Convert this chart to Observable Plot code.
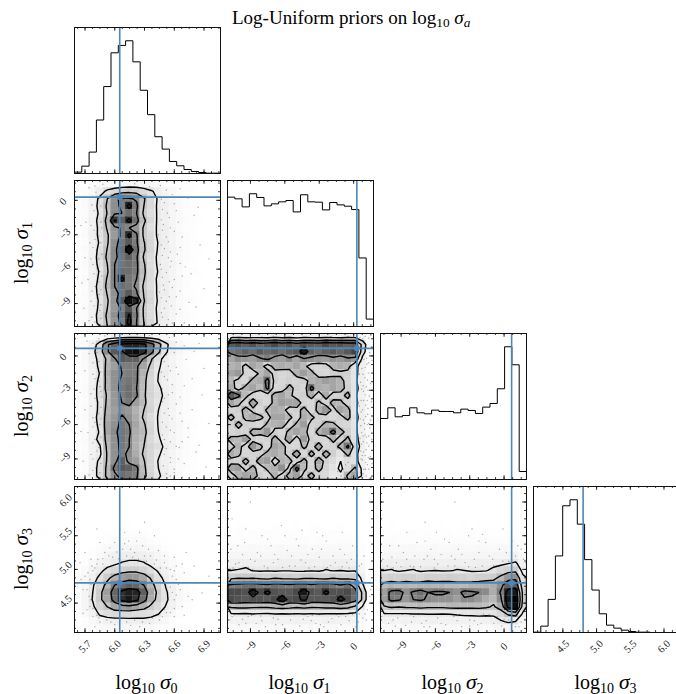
<!DOCTYPE html>
<html><head><meta charset="utf-8">
<script src="https://cdn.jsdelivr.net/npm/d3@7"></script>
<script src="https://cdn.jsdelivr.net/npm/@observablehq/plot@0.6"></script>
<style>
html,body{margin:0;padding:0;background:#fff;overflow:hidden}
#fig{position:relative;width:676px;height:694px;overflow:hidden;font-family:"Liberation Serif",serif;color:#000}
#fig svg{position:absolute;overflow:visible;background:transparent}
.lab{position:absolute;font-size:20px;white-space:nowrap;line-height:1}
.lab sub,.ttl sub{font-size:70%;vertical-align:-0.25em;line-height:0}
.lab i{font-size:1.08em}
.ttl{position:absolute;font-size:19px;white-space:nowrap;line-height:1;left:232px;top:8px}
</style></head><body><div id="fig"></div>
<script>
const domain0=[5.594,7.066], domain1=[-11,1.73], domain2=[-10.8,1.96], domain3=[4.064,6.23];
const truth=[6.05,0.28,0.66,4.8];
const majors0=[5.7,6.0,6.3,6.6,6.9], labels0=["5.7","6.0","6.3","6.6","6.9"];
const majors1=[-9,-6,-3,0], labels1=["−9","−6","−3","0"];
const majors2=[-9,-6,-3,0], labels2=["−9","−6","−3","0"];
const majors3=[4.5,5.0,5.5,6.0], labels3=["4.5","5.0","5.5","6.0"];
const minorStep=[0.075,0.75,0.75,0.125];
const names=["0","1","2","3"];
const hist0=[4,22,64,160,260,361,383,397,334,249,176,110,73,36,23,12,6,3,1,1];
const hist1=[385,380,356,395,384,359,365,371,375,341,392,371,370,347,369,362,358,348,204,22];
const hist2=[183,215,188,192,215,200,197,208,204,204,200,211,207,198,217,228,272,398,344,24];
const hist3=[1,19,99,229,379,397,324,218,127,56,22,13,7,3,1,1,0,0,0,0];

const gridA=[
[0,1,2,4,5,7,9,10,10,9,7,5,4,3,2,1,1,0,0,0],
[1,2,6,13,24,30,34,36,34,28,22,15,10,6,3,2,1,0,0,0],
[1,4,11,24,40,56,64,62,58,42,28,18,13,8,4,2,1,0,0,0],
[2,4,12,26,43,57,62,88,63,40,28,17,14,9,5,3,1,1,0,0],
[2,3,12,23,41,58,60,66,60,37,26,18,14,8,5,2,1,0,0,0],
[1,4,12,27,45,83,70,86,66,43,29,17,13,9,5,3,2,1,0,0],
[1,3,11,25,42,55,62,60,54,38,25,18,15,9,4,2,1,0,0,0],
[2,4,13,24,38,53,62,85,62,37,28,17,14,10,5,3,1,0,0,0],
[1,3,12,22,38,57,64,72,62,41,30,19,15,9,5,3,2,1,0,0],
[2,4,11,26,41,58,66,96,66,42,30,18,14,10,6,3,1,1,0,0],
[1,3,12,28,43,58,64,70,62,38,27,17,13,9,5,3,1,0,0,0],
[1,4,13,25,40,60,64,66,63,42,26,18,14,10,6,2,1,0,0,0],
[2,3,11,22,38,60,66,66,63,43,28,19,15,9,4,2,2,1,0,0],
[1,4,12,24,42,60,86,64,60,41,27,17,14,9,5,3,1,1,0,0],
[2,3,13,27,44,60,66,64,58,37,26,18,13,10,5,3,1,0,0,0],
[1,4,12,26,41,56,64,72,62,39,29,17,15,9,5,2,1,0,0,0],
[2,3,11,23,38,55,72,96,88,41,30,18,14,9,4,3,2,1,0,0],
[1,4,12,24,40,54,62,74,60,38,27,17,13,10,5,2,1,0,0,0],
[2,3,13,27,43,56,64,82,62,38,26,18,14,9,5,3,1,0,0,0],
[1,4,12,26,41,55,62,86,60,40,29,18,15,9,4,2,1,0,0,0]];
const gridB=[
[1,2,3,5,8,12,15,17,17,15,12,9,6,4,2,1,1,0,0,0],
[2,4,12,28,58,70,84,88,88,84,68,48,24,12,6,3,2,1,0,0],
[2,5,15,32,58,72,78,94,96,86,66,44,22,13,7,3,2,1,0,0],
[2,5,13,26,44,58,72,70,70,58,42,24,15,9,5,3,1,0,0,0],
[1,4,12,24,46,52,62,62,62,50,36,22,14,10,5,2,1,1,0,0],
[2,4,11,21,48,56,60,62,62,46,32,20,15,9,5,3,1,0,0,0],
[1,3,12,24,46,56,62,64,62,44,30,19,13,8,6,3,2,1,0,0],
[2,4,13,26,46,56,63,66,60,43,31,23,14,10,5,2,1,0,0,0],
[1,4,12,27,42,54,62,66,62,42,32,25,16,9,5,3,1,1,0,0],
[2,3,12,24,44,54,60,64,52,44,30,22,15,10,6,3,2,0,0,0],
[1,4,11,25,46,52,56,54,46,40,32,20,14,9,5,3,1,0,0,0],
[2,4,13,27,48,54,62,56,48,38,27,19,13,9,5,2,1,1,0,0],
[1,3,12,25,50,56,63,60,50,42,30,19,14,10,6,3,2,0,0,0],
[2,4,11,22,50,58,64,62,48,44,32,20,15,9,5,3,1,0,0,0],
[1,4,13,26,46,56,64,60,47,42,29,22,14,10,5,2,1,0,0,0],
[2,3,12,19,44,56,63,60,46,40,31,26,16,11,6,3,1,1,0,0],
[1,4,11,17,42,56,62,58,48,38,30,22,14,9,5,3,2,0,0,0],
[2,4,12,24,42,56,70,56,52,41,30,19,13,10,5,2,1,0,0,0],
[1,3,13,26,44,64,72,70,64,43,30,20,14,9,4,3,1,0,0,0],
[2,4,12,27,44,56,66,64,62,44,31,22,15,9,5,2,1,0,0,0]];
const gridC=[
[16,17,15,16,17,15,18,16,17,15,17,16,15,17,16,15,17,16,8,3],
[72,75,70,74,68,72,76,70,74,68,74,72,70,76,72,74,70,72,32,5],
[64,66,70,66,72,68,70,66,70,72,92,70,66,70,72,68,72,78,28,5],
[50,56,54,52,58,62,54,52,58,50,58,56,54,52,56,54,58,54,15,4],
[46,48,34,50,46,32,46,48,46,50,44,32,30,34,46,48,46,24,13,4],
[50,54,32,30,44,50,34,30,32,46,52,46,32,30,34,36,34,23,14,5],
[44,34,30,46,48,66,34,30,34,32,34,46,48,52,50,46,32,22,13,4],
[48,32,46,50,44,64,30,32,46,34,30,66,48,46,50,46,34,24,14,5],
[72,64,44,32,30,32,46,50,44,32,34,48,30,48,32,34,46,22,12,4],
[50,44,32,50,34,30,46,52,50,50,32,30,44,32,46,44,32,23,14,5],
[32,34,46,36,30,44,48,46,32,34,46,30,46,54,34,50,46,22,13,4],
[46,32,44,48,44,34,50,50,44,32,48,44,34,32,30,34,46,24,14,5],
[32,46,34,32,30,44,46,48,30,44,52,32,34,46,44,32,30,22,13,4],
[30,34,32,46,46,54,34,30,46,50,46,30,46,52,66,46,34,23,12,4],
[46,44,52,34,30,32,46,34,50,32,52,34,32,30,46,32,44,24,14,5],
[34,46,32,54,44,30,50,46,32,30,44,32,50,30,32,46,64,30,13,4],
[48,44,30,32,34,46,48,44,34,50,30,46,32,48,34,24,46,24,12,4],
[34,32,46,32,50,52,30,46,44,32,46,30,50,34,28,20,26,24,13,5],
[50,52,34,46,30,44,46,56,34,66,44,32,46,32,24,18,26,44,14,4],
[32,46,50,48,34,30,46,32,46,52,34,46,32,28,20,22,44,50,15,4]];
const gridD=[
[0,0,0,0,0,0,0,0,0,0,0,0,0,0,0,0,0,0,0,0],
[0,0,0,0,0,0,0,0,0,0,0,0,0,0,0,0,0,0,0,0],
[0,0,0,0,0,0,0,0,0,0,0,0,0,0,0,0,0,0,0,0],
[0,0,0,0,0,0,0,0,0,0,0,0,0,0,0,0,0,0,0,0],
[0,0,0,0,0,0,0,0,0,0,0,0,0,0,0,0,0,0,0,0],
[0,0,0,0,0,0,1,1,0,0,0,0,0,0,0,0,0,0,0,0],
[0,0,0,0,1,1,2,2,2,2,1,1,0,0,0,0,0,0,0,0],
[0,0,0,1,2,3,4,4,4,4,3,2,1,0,0,0,0,0,0,0],
[0,0,1,3,5,7,8,9,9,8,6,4,2,1,0,0,0,0,0,0],
[0,1,3,6,9,12,14,15,15,14,11,8,5,2,1,0,0,0,0,0],
[0,2,6,10,13,17,21,23,23,21,15,11,8,4,2,0,0,0,0,0],
[1,4,10,16,25,30,34,36,36,32,26,18,12,6,3,1,0,0,0,0],
[2,6,13,24,36,46,52,55,54,49,38,25,15,8,4,2,1,0,0,0],
[2,8,18,32,45,60,66,70,68,60,45,33,19,11,6,3,1,0,0,0],
[2,9,20,36,52,68,84,90,88,70,50,36,22,13,7,3,1,0,0,0],
[2,9,21,37,50,66,85,92,84,66,48,34,23,13,7,3,1,0,0,0],
[2,8,17,31,40,50,52,54,50,46,36,28,19,11,5,2,1,0,0,0],
[1,5,11,22,26,28,28,28,27,26,24,20,12,7,3,1,0,0,0,0],
[0,2,6,10,12,13,13,14,14,15,14,10,7,3,1,0,0,0,0,0],
[0,0,3,5,6,6,7,7,7,7,6,4,2,1,0,0,0,0,0,0]];
const gridE=[
[0,0,0,0,0,0,0,0,0,0,0,0,0,0,0,0,0,0,0,0],
[0,0,0,0,0,0,0,0,0,0,0,0,0,0,0,0,0,0,0,0],
[0,0,0,0,0,0,0,0,0,0,0,0,0,0,0,0,0,0,0,0],
[0,0,0,0,0,0,0,0,0,0,0,0,0,0,0,0,0,0,0,0],
[0,0,0,0,0,0,0,0,0,0,0,0,0,0,0,0,0,0,0,0],
[0,1,1,0,1,0,1,1,0,1,0,1,1,0,0,1,0,0,0,0],
[1,2,1,2,1,2,2,1,2,2,1,2,1,2,2,1,1,1,0,0],
[3,3,2,3,3,3,2,3,3,3,3,2,3,3,2,3,3,2,1,0],
[5,5,5,6,5,5,5,6,5,5,6,5,5,5,6,5,5,4,2,0],
[8,8,9,8,8,7,8,8,9,8,8,8,9,8,8,8,7,6,3,0],
[13,14,15,13,13,12,13,14,13,13,14,13,12,14,13,13,13,12,5,1],
[20,21,23,19,18,19,18,19,19,18,18,19,18,21,19,20,18,19,8,1],
[36,38,37,38,36,35,38,36,36,34,37,38,36,34,38,36,35,36,14,2],
[62,64,66,66,64,62,66,64,62,66,66,62,66,68,64,60,66,52,22,3],
[76,76,74,90,76,84,74,72,72,76,92,74,72,84,74,74,76,68,36,3],
[76,74,72,74,74,72,76,92,74,76,84,72,72,72,74,86,76,66,36,3],
[42,44,44,42,42,42,44,46,44,42,44,42,42,44,44,46,44,36,18,2],
[18,18,17,19,18,17,19,18,19,18,19,18,19,18,18,18,17,16,8,1],
[11,11,12,11,11,10,12,11,11,12,11,11,10,11,12,11,11,9,4,1],
[5,5,6,5,5,5,5,6,5,5,5,6,5,5,5,5,5,4,2,0]];
const gridF=[
[0,0,0,0,0,0,0,0,0,0,0,0,0,0,0,0,0,0,0,0],
[0,0,0,0,0,0,0,0,0,0,0,0,0,0,0,0,0,0,0,0],
[0,0,0,0,0,0,0,0,0,0,0,0,0,0,0,0,0,0,0,0],
[0,0,0,0,0,0,0,0,0,0,0,0,0,0,0,0,0,0,0,0],
[0,0,0,0,0,0,0,0,0,0,0,0,0,0,0,0,0,0,0,0],
[0,1,0,1,0,0,1,0,1,0,0,1,0,1,0,1,0,0,0,0],
[1,1,2,1,2,1,2,1,1,2,1,1,2,1,2,1,1,2,1,0],
[3,3,2,3,3,2,3,3,3,2,3,3,3,2,3,3,3,3,3,1],
[5,5,5,5,6,5,5,6,5,5,6,5,5,6,5,5,6,6,6,3],
[8,8,9,8,8,8,9,8,8,8,9,8,8,8,8,9,9,10,11,6],
[13,14,13,14,14,13,14,14,13,13,14,13,13,14,14,15,16,19,22,11],
[20,21,18,20,21,18,19,20,19,19,21,20,18,18,19,24,30,34,36,15],
[32,34,33,35,34,32,35,34,34,36,34,34,32,34,35,36,44,54,56,24],
[44,46,44,45,44,46,46,45,46,44,44,44,46,46,47,48,56,70,72,30],
[52,64,66,56,62,66,60,62,62,60,56,64,62,60,58,48,62,88,92,36],
[52,64,62,54,60,62,58,56,56,56,52,58,58,54,48,44,58,92,100,36],
[38,42,40,42,42,44,42,42,42,44,44,44,44,44,42,38,48,84,96,30],
[18,18,18,18,19,19,20,20,19,20,21,22,22,23,22,22,30,42,46,16],
[11,11,10,11,11,11,12,12,11,12,11,11,12,11,12,14,18,22,20,9],
[5,5,5,5,6,5,5,5,6,5,5,5,6,5,5,6,8,9,8,4]];

const speckA=[[5.74,1.1],[5.81,0.7],[5.77,-0.4],[5.83,-1.2],[5.71,-1.9],[5.79,-2.6],[5.84,-3.1],[5.75,-3.7],[5.82,-4.3],[5.7,-5],[5.78,-5.6],[5.85,-6.2],[5.73,-6.9],[5.8,-7.5],[5.84,-8.2],[5.76,-8.8],[5.69,-9.4],[5.81,-9.9],[5.74,-10.5],[5.83,-10.8],[5.66,-2.2],[5.67,-7.2],[5.88,1.4],[6.0,1.5],[6.2,1.45],[6.35,1.2],[6.46,1.3],[6.52,0.9],[6.58,0.5],[6.5,-0.2],[6.62,-0.9],[6.55,-1.5],[6.49,-2.1],[6.6,-2.7],[6.68,-3.2],[6.54,-3.6],[6.5,-4.2],[6.63,-4.7],[6.57,-5.3],[6.71,-5.8],[6.52,-6.3],[6.6,-6.9],[6.49,-7.4],[6.66,-7.9],[6.55,-8.4],[6.75,-8.9],[6.5,-9.4],[6.62,-9.9],[6.54,-10.4],[6.7,-10.7],[6.8,-1.3],[6.86,-3.9],[6.77,-6.4],[6.9,-7.7],[6.82,-9.3],[6.95,-5.1],[6.66,1.0],[6.74,0.2],[6.84,-0.6],[6.44,-3],[6.46,-5.6],[6.45,-8],[5.87,-4.7],[5.86,-9.1],[5.86,-1.9],
[5.8,1.25],[5.85,0.2],[5.79,-0.9],[5.86,-0.5],[5.82,-1.6],[5.76,-2.2],[5.87,-2.4],[5.8,-3.4],[5.86,-3.7],[5.78,-4.1],[5.84,-5.1],[5.76,-5.1],[5.82,-5.9],[5.87,-6.6],[5.79,-6.4],[5.84,-7.1],[5.77,-7.9],[5.86,-7.8],[5.82,-8.5],[5.79,-9.2],[5.85,-9.6],[5.77,-10.2],[5.86,-10.3],[5.8,-10.6],[6.47,0.1],[6.48,-0.8],[6.53,-1.1],[6.47,-1.7],[6.56,-2.4],[6.48,-2.6],[6.52,-3.2],[6.47,-3.9],[6.56,-4.5],[6.48,-4.8],[6.54,-5],[6.47,-6],[6.56,-5.8],[6.48,-6.7],[6.55,-7.1],[6.5,-7.8],[6.58,-7.6],[6.47,-8.5],[6.52,-8.8],[6.47,-9.8],[6.57,-9.2],[6.48,-10.2],[6.58,-10.7],[6.6,-0.3],[6.64,-1.9],[6.66,-4.1],[6.66,-5.5],[6.68,-6.6],[6.62,-8.4],[6.66,-9.5]];
const speckB=[[5.72,1.3],[5.8,0.8],[5.74,0.2],[5.84,-0.5],[5.7,-1.3],[5.8,-2],[5.85,-2.7],[5.76,-3.3],[5.83,-4],[5.7,-4.7],[5.78,-5.4],[5.85,-6],[5.73,-6.7],[5.8,-7.3],[5.84,-8],[5.76,-8.6],[5.68,-9.2],[5.81,-9.8],[5.74,-10.4],[5.65,-3.2],[5.66,-6.6],[5.9,1.75],[6.35,1.8],[6.55,1.6],[6.62,1.2],[6.7,0.9],[6.6,0.3],[6.72,-0.3],[6.54,-0.9],[6.64,-1.6],[6.53,-2.1],[6.7,-2.6],[6.58,-3.2],[6.5,-3.7],[6.62,-4.2],[6.78,-4.7],[6.55,-5.2],[6.68,-5.7],[6.52,-6.2],[6.6,-6.7],[6.74,-7.1],[6.56,-7.5],[6.65,-8],[6.82,-8.4],[6.56,-8.9],[6.7,-9.4],[6.6,-9.9],[6.52,-10.3],[6.68,-10.6],[6.9,-1.1],[6.88,-3.4],[6.95,-5.9],[6.85,-7.8],[6.92,-9.7],[6.8,0.4],[6.85,1.1],[6.47,-1.4],[6.48,-6.9],[5.87,-3.6],[5.86,-7.7],[6.78,-2],[6.62,-7.9],[6.74,-6.3],
[5.78,1.1],[5.84,1.5],[5.82,0.3],[5.78,-0.6],[5.86,-1.4],[5.78,-1.6],[5.84,-2.2],[5.79,-2.9],[5.86,-3.1],[5.8,-3.7],[5.86,-4.5],[5.76,-4.4],[5.84,-5],[5.8,-5.8],[5.86,-5.5],[5.78,-6.2],[5.84,-6.8],[5.78,-7.6],[5.86,-7.1],[5.82,-8.3],[5.78,-9],[5.86,-9.4],[5.78,-10],[5.85,-10.2],[5.82,-10.6],[6.5,1.2],[6.56,0.7],[6.52,0.1],[6.5,-0.5],[6.56,-1.3],[6.5,-1.8],[6.58,-2.5],[6.48,-2.9],[6.54,-3.4],[6.48,-4],[6.54,-4.6],[6.5,-5],[6.58,-5.5],[6.48,-5.8],[6.56,-6.5],[6.5,-7.3],[6.52,-8.1],[6.5,-8.6],[6.56,-9.3],[6.49,-9.6],[6.56,-10.5],[6.62,-1],[6.66,-3.6],[6.66,-5],[6.68,-7.5],[6.64,-9],[6.6,-10.2]];
const speckC=[[0.55,1.6],[0.8,1.5],[1.0,1.7],[1.3,1.55],[1.5,1.8],[0.62,0.1],[0.9,-0.3],[1.15,-0.7],[0.72,-1.1],[1.28,-1.5],[0.98,-1.9],[0.6,-2.3],[1.1,-2.7],[0.85,-3.1],[1.35,-3.5],[0.66,-3.9],[1.05,-4.3],[0.78,-4.7],[1.22,-5.1],[0.58,-5.5],[0.95,-5.9],[1.4,-6.3],[0.7,-6.7],[1.12,-7.1],[0.84,-7.5],[1.3,-7.9],[0.62,-8.3],[1.0,-8.7],[0.76,-9.1],[1.2,-9.5],[0.9,-9.9],[0.6,-10.2],[1.1,-10.5],[1.36,-10.7],[0.5,-1.6],[0.5,-4.4],[0.55,-7.2],[0.52,-9.7],[1.48,-2.4],[1.5,-5.6],[1.45,-8.8],[0.68,-0.5],[0.82,-2.6],[1.18,-3.9],[0.95,-6.4],[0.74,-8.7],[1.06,-9.3],[-0.6,-10.4],[-0.9,-9.9],[-1.1,-10.5],[-0.5,-9.3],[-1.4,-10.1],[-0.2,-10.6],[-0.4,-8.8],[-0.7,-9.5],[0.3,-10.2],[-10,1.55],[-8,1.65],[-6,1.5],[-4,1.6],[-2,1.7],[-1,1.5],
[0.7,-0.1],[1.0,-1.0],[0.8,-1.6],[1.2,-2.1],[0.7,-2.9],[1.02,-3.4],[0.88,-3.9],[1.25,-4.6],[0.65,-4.9],[1.05,-5.3],[0.85,-5.6],[1.2,-6.0],[0.62,-6.1],[1.0,-6.9],[0.82,-7.0],[1.15,-7.6],[0.68,-7.7],[1.08,-8.2],[0.85,-8.4],[1.28,-8.9],[0.65,-9.0],[1.05,-9.9],[0.82,-10.3],[0.72,-10.6],[1.12,-0.2],[1.3,-0.6],[1.25,-3.0],[1.32,-5.9],[1.3,-7.0],[1.32,-9.9],[-10.5,1.7],[-9,1.5],[-7,1.72],[-5,1.55],[-3,1.75],[-0.5,1.7],[0.3,1.6],[1.55,0.8],[1.4,0.3],[1.6,-0.4],[1.55,-4],[1.58,-7.3],[1.6,-9.4]];
const speckD=[[5.7,4.9],[5.74,4.6],[5.68,4.7],[5.77,5.05],[5.72,4.4],[5.78,4.3],[5.83,5.15],[5.9,5.25],[5.85,4.22],[5.95,5.32],[6.0,5.4],[6.08,5.3],[6.14,5.42],[6.2,5.25],[6.28,5.35],[6.36,5.2],[6.44,5.28],[6.5,5.1],[6.56,5.0],[6.6,5.18],[6.62,4.85],[6.7,4.95],[6.66,4.7],[6.74,4.6],[6.68,4.45],[6.6,4.3],[6.52,4.36],[6.45,4.25],[6.35,4.2],[6.25,4.15],[6.12,4.22],[6.0,4.18],[5.92,4.25],[6.05,5.6],[6.25,5.55],[5.85,5.4],[6.4,5.5],[5.65,5.1],[5.62,4.5],[6.82,4.8],[6.88,4.65],[6.8,5.05],[6.72,5.25],[5.8,4.15],[6.18,5.18],[5.98,5.18],[6.32,5.12],[6.6,4.55],[6.56,4.74],[5.76,4.78],[5.8,5.02],[5.82,4.32],[6.46,5.02],[6.5,4.4],[6.2,4.25],[6.0,4.28],[5.7,5.25],[6.3,5.7],[6.95,4.9],[5.82,5.6],[6.1,5.55],[5.88,5.08],[6.42,5.14],[5.75,4.45],[6.62,5.05],
[5.73,4.95],[5.75,4.85],[5.72,4.7],[5.76,4.55],[5.78,4.42],[5.84,4.28],[5.9,4.3],[5.96,4.22],[6.05,4.24],[6.16,4.17],[6.28,4.22],[6.38,4.28],[6.48,4.3],[6.56,4.36],[6.6,4.42],[6.62,4.62],[6.58,4.66],[6.64,4.78],[6.58,4.9],[6.6,4.98],[6.52,5.02],[6.4,5.08],[6.3,5.2],[6.24,5.15],[6.12,5.2],[6.04,5.16],[5.94,5.2],[5.88,5.16],[5.82,5.08],[5.78,4.98],[6.02,5.26],[6.16,5.3],[6.34,5.3],[5.76,5.15],[6.1,5.38],[6.22,5.42],[6.5,5.2],[6.68,5.08],[6.72,4.8],[6.78,4.55],[6.7,4.32],[5.68,4.35],[5.66,4.85]];
const speckE=[[-10.7,5.3],[-10,5.1],[-9.5,5.4],[-9,5.15],[-8.4,5.25],[-7.8,5.05],[-7.2,5.35],[-6.6,5.15],[-6,5.5],[-5.4,5.2],[-4.8,5.35],[-4.2,5.1],[-3.6,5.3],[-3,5.18],[-2.4,5.42],[-1.8,5.2],[-1.2,5.3],[-0.6,5.1],[-0.1,5.35],[0.5,5.05],[0.9,5.2],[-10.3,5.08],[-8.8,5.0],[-7,5.1],[-5.6,5.05],[-3.9,5.02],[-2,5.06],[-0.4,5.02],[-9.4,5.6],[-6.3,5.65],[-3.2,5.55],[-8,5.5],[-4.5,5.58],[-1,5.55],[-10.8,4.25],[-10,4.18],[-9.2,4.3],[-8.5,4.2],[-7.7,4.15],[-7,4.28],[-6.2,4.18],[-5.5,4.25],[-4.7,4.16],[-4,4.3],[-3.3,4.2],[-2.6,4.15],[-1.9,4.27],[-1.1,4.18],[-0.4,4.24],[0.2,4.15],[0.8,4.28],[1.2,4.4],[1.4,4.6],[1.45,4.8],[1.3,5.0],[1.1,4.25],[-10.4,4.33],[-8.1,4.31],[-5.9,4.34],[-3.6,4.32],[-1.5,4.33],[0.5,4.34],[-10.6,5.75],[-9,6.0],
[-10.5,5.02],[-9.7,5.22],[-9.2,5.03],[-8.6,5.12],[-8.1,5.2],[-7.5,5.02],[-6.9,5.22],[-6.2,5.03],[-5.8,5.28],[-5.1,5.05],[-4.6,5.14],[-4,5.22],[-3.4,5.04],[-2.8,5.3],[-2.3,5.03],[-1.6,5.1],[-1,5.04],[-0.8,5.22],[-0.2,5.15],[0.3,5.2],[0.7,5.08],[-10.1,5.35],[-7.5,5.45],[-5,5.45],[-2.7,5.5],[-10.6,4.3],[-9.7,4.26],[-8.9,4.32],[-8,4.24],[-7.3,4.33],[-6.6,4.26],[-5.2,4.33],[-4.4,4.26],[-3.7,4.24],[-3,4.33],[-2.2,4.22],[-1.3,4.3],[-0.7,4.3],[-0.1,4.33],[0.4,4.22],[1.0,4.34],[-9.4,4.2],[-6.8,4.18],[-2.9,4.18],[1.5,4.7],[1.5,4.5]];
const speckF=[[-10.6,5.15],[-10,5.35],[-9.4,5.1],[-8.8,5.25],[-8.2,5.05],[-7.6,5.4],[-7,5.15],[-6.4,5.3],[-5.8,5.08],[-5.2,5.45],[-4.6,5.2],[-4,5.3],[-3.4,5.1],[-2.8,5.6],[-2.2,5.25],[-1.6,5.4],[-1,5.15],[-0.4,5.3],[0.2,5.25],[0.7,5.42],[1.2,5.35],[1.7,5.15],[-9.7,5.02],[-7.9,5.04],[-6.1,5.02],[-4.3,5.05],[-2.5,5.03],[-0.7,5.06],[-8.5,5.55],[-5.9,5.55],[-3.1,5.5],[-1.9,5.52],[-6.9,5.7],[-0.1,5.6],[-10.7,4.3],[-10.1,4.2],[-9.3,4.28],[-8.6,4.17],[-7.9,4.3],[-7.2,4.2],[-6.5,4.15],[-5.8,4.28],[-5.1,4.18],[-4.4,4.3],[-3.7,4.15],[-3,4.25],[-2.3,4.18],[-1.6,4.3],[-0.9,4.2],[-0.2,4.16],[0.4,4.25],[1,4.15],[1.5,4.22],[1.85,4.4],[-10.3,4.35],[-8.2,4.33],[-6,4.34],[-3.9,4.33],[-1.8,4.34],[1.9,5],[1.92,4.8],[-4.3,6.0],
[-10.2,5.05],[-9.8,5.18],[-9,5.04],[-8.5,5.15],[-7.8,5.2],[-7.3,5.04],[-6.7,5.2],[-6.1,5.15],[-5.5,5.22],[-4.9,5.05],[-4.3,5.15],[-3.7,5.22],[-3.1,5.04],[-2.6,5.15],[-1.9,5.05],[-1.3,5.2],[-0.9,5.06],[-0.1,5.12],[0.4,5.12],[1,5.2],[1.5,5.3],[-9.2,5.35],[-6.9,5.42],[-4.8,5.4],[-2.2,5.42],[-10.5,4.35],[-9.7,4.25],[-8.9,4.33],[-8.1,4.22],[-7.5,4.33],[-6.8,4.24],[-6.2,4.33],[-5.5,4.2],[-4.8,4.33],[-4.1,4.24],[-3.3,4.32],[-2.6,4.24],[-2,4.2],[-1.3,4.33],[-0.6,4.3],[0,4.26],[0.7,4.2],[1.3,4.15],[1.8,4.26],[-9.5,4.16],[-7,4.15],[-3,4.16],[1.93,4.55],[1.88,5.1]];

const sets=[
 {dom:domain0,maj:majors0,lab:labels0},
 {dom:domain1,maj:majors1,lab:labels1},
 {dom:domain2,maj:majors2,lab:labels2},
 {dom:domain3,maj:majors3,lab:labels3}];
const SIZE=146, STEP=153, LEFT=73.5, TOP=26.5, INK="#111", TRUTH="#4f86b8";
const fig=document.getElementById("fig");
const colorScale={type:"linear",domain:[0,20,40,60,80,100],range:["#ffffff","#e8e8e8","#c6c6c6","#848484","#3c3c3c","#000000"]};

function minors(i){
  const s=minorStep[i],[a,b]=sets[i].dom,m=sets[i].maj[0],out=[];
  for(let k=Math.ceil((a-m)/s);m+k*s<=b;k++) out.push(m+k*s);
  return out;
}
function ticksX(i,extra){
  const maj=sets[i].maj,min=minors(i),o=[];
  o.push(Plot.tickX(min,{x:d=>d,insetBottom:SIZE-2,stroke:INK,strokeWidth:.8}));
  o.push(Plot.tickX(min,{x:d=>d,insetTop:SIZE-2,stroke:INK,strokeWidth:.8}));
  o.push(Plot.tickX(maj,{x:d=>d,insetBottom:SIZE-3.8,stroke:INK,strokeWidth:.9}));
  o.push(Plot.tickX(maj,{x:d=>d,insetTop:SIZE-3.8,stroke:INK,strokeWidth:.9}));
  if(extra) o.push(Plot.text(maj.map((d,k)=>({d,t:sets[i].lab[k]})),{x:"d",text:"t",frameAnchor:"bottom",dy:14,rotate:-45,fontSize:10.5,fill:"#222",fontFamily:"Liberation Serif",lineAnchor:"middle"}));
  return o;
}
function ticksY(i,extra){
  const maj=sets[i].maj,min=minors(i),o=[];
  o.push(Plot.tickY(min,{y:d=>d,insetRight:SIZE-2,stroke:INK,strokeWidth:.8}));
  o.push(Plot.tickY(min,{y:d=>d,insetLeft:SIZE-2,stroke:INK,strokeWidth:.8}));
  o.push(Plot.tickY(maj,{y:d=>d,insetRight:SIZE-3.8,stroke:INK,strokeWidth:.9}));
  o.push(Plot.tickY(maj,{y:d=>d,insetLeft:SIZE-3.8,stroke:INK,strokeWidth:.9}));
  if(extra) o.push(Plot.text(maj.map((d,k)=>({d,t:sets[i].lab[k]})),{y:"d",text:"t",frameAnchor:"left",dx:-13.5,dy:3,rotate:-45,fontSize:10.5,fill:"#222",fontFamily:"Liberation Serif",lineAnchor:"middle"}));
  return o;
}
function place(svg,col,row){
  svg.style.left=(LEFT+col*STEP)+"px";
  svg.style.top=(TOP+row*STEP)+"px";
  fig.appendChild(svg);
}
function histPanel(i,counts){
  const [a,b]=sets[i].dom,w=(b-a)/counts.length;
  const pts=[{x:a,y:0}];
  counts.forEach((c,k)=>pts.push({x:a+k*w,y:c}));
  pts.push({x:b,y:counts[counts.length-1]},{x:b,y:0});
  const svg=Plot.plot({width:SIZE,height:SIZE,margin:0,
    x:{domain:sets[i].dom,axis:null},y:{domain:[0,d3.max(counts)*1.1],axis:null},
    marks:[
      Plot.line(pts,{x:"x",y:"y",curve:"step-after",stroke:"#000",strokeWidth:1}),
      Plot.ruleX([truth[i]],{stroke:TRUTH,strokeWidth:1.6}),
      ...ticksX(i,i===3),
      Plot.frame({stroke:INK,strokeWidth:1})
    ]});
  place(svg,i,i);
}
function pairPanel(ix,iy,grid,speck){
  const [xa,xb]=sets[ix].dom,[ya,yb]=sets[iy].dom;
  const dx=(xb-xa)/20,dy=(yb-ya)/20,cells=[];
  grid.forEach((r,ri)=>r.forEach((v,ci)=>cells.push({x1:xa+ci*dx,x2:xa+(ci+1)*dx,y1:yb-ri*dy,y2:yb-(ri+1)*dy,v})));
  const svg=Plot.plot({width:SIZE,height:SIZE,margin:0,
    x:{domain:sets[ix].dom,axis:null},y:{domain:sets[iy].dom,axis:null},color:colorScale,
    marks:[
      Plot.rect(cells,{x1:"x1",x2:"x2",y1:"y1",y2:"y2",fill:"v",stroke:"v",strokeWidth:.25,inset:0}),
      Plot.dot(speck,{x:d=>d[0],y:d=>d[1],r:.7,fill:"#666",fillOpacity:.55,stroke:"none"}),
      Plot.contour(grid.flat(),{value:Plot.identity,width:20,height:20,x1:xa,x2:xb,y1:yb,y2:ya,thresholds:[20,40,60,80],stroke:"#000",strokeWidth:1.4,fill:"none",clip:true}),
      ...ticksX(ix,iy===3),
      ...ticksY(iy,ix===0),
      Plot.ruleX([truth[ix]],{stroke:TRUTH,strokeWidth:1.6}),
      Plot.ruleY([truth[iy]],{stroke:TRUTH,strokeWidth:1.6}),
      Plot.dot([[truth[ix],truth[iy]]],{x:d=>d[0],y:d=>d[1],r:3,fill:TRUTH,stroke:"none"}),
      Plot.frame({stroke:INK,strokeWidth:1})
    ]});
  place(svg,ix,iy);
}
histPanel(0,hist0);histPanel(1,hist1);histPanel(2,hist2);histPanel(3,hist3);
pairPanel(0,1,gridA,speckA);
pairPanel(0,2,gridB,speckB);
pairPanel(1,2,gridC,speckC);
pairPanel(0,3,gridD,speckD);
pairPanel(1,3,gridE,speckE);
pairPanel(2,3,gridF,speckF);

function labelHtml(n){return `log<sub>10</sub> <i>σ</i><sub>${n}</sub>`;}
names.forEach((n,i)=>{
  const d=document.createElement("div");d.className="lab";d.innerHTML=labelHtml(n);
  d.style.left=(LEFT+i*STEP+SIZE/2)+"px";d.style.top="672px";d.style.transform="translateX(-50%)";
  fig.appendChild(d);
  if(i>0){
    const e=document.createElement("div");e.className="lab";e.innerHTML=labelHtml(n);
    e.style.left="22px";e.style.top=(TOP+i*STEP+SIZE/2)+"px";e.style.transform="translate(-50%,-50%) rotate(-90deg)";
    fig.appendChild(e);
  }
});
const t=document.createElement("div");t.className="ttl";t.innerHTML="Log-Uniform priors on log<sub>10</sub> <i>σ<sub>a</sub></i>";
fig.appendChild(t);
</script></body></html>
